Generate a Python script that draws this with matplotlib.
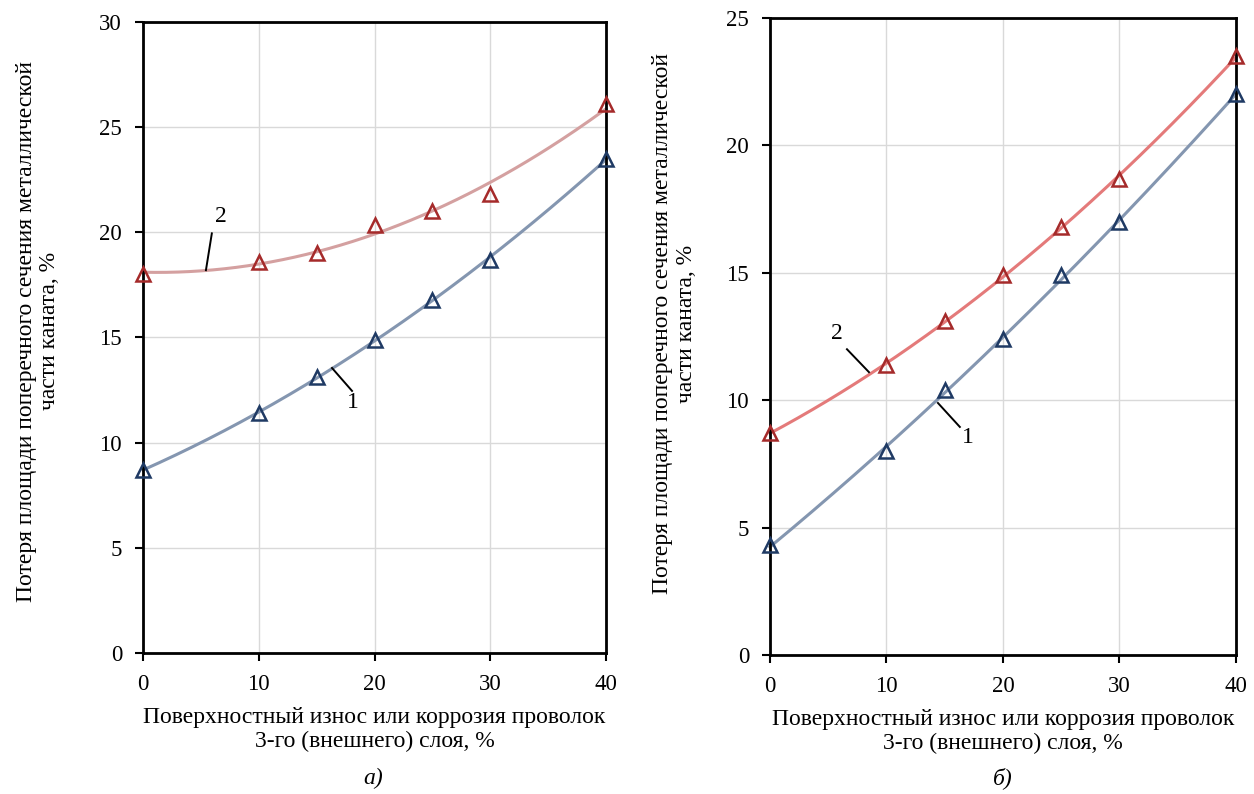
import numpy as np
import matplotlib.pyplot as plt

plt.rcParams['font.family'] = ['Liberation Serif', 'DejaVu Serif']

# --- data ---
x = [0, 10, 15, 20, 25, 30, 40]

# panel a)
a_curve1 = [8.7, 11.4, 13.1, 14.9, 16.8, 18.7, 23.5]
a_curve2 = [18.0, 18.6, 19.0, 20.35, 21.0, 21.8, 26.1]

# panel б)
b_curve1 = [4.3, 8.0, 10.4, 12.4, 14.9, 17.0, 22.0]
b_curve2 = [8.7, 11.4, 13.1, 14.9, 16.8, 18.7, 23.5]

xlabel = 'Поверхностный износ или коррозия проволок\n3-го (внешнего) слоя, %'
ylabel = 'Потеря площади поперечного сечения металлической\nчасти каната, %'

blue_mk = '#1f3a64'
blue_ln = '#8496b0'
red_mk = '#a52a2a'

fig = plt.figure(figsize=(12.54, 7.94), dpi=100)
ax1 = fig.add_axes([0.1140, 0.1776, 0.3693, 0.7947])
ax2 = fig.add_axes([0.6140, 0.1751, 0.3716, 0.8022])

xs = np.linspace(0, 40, 200)


def draw(ax, y1, y2, red_ln, ymax, ystep):
    for y, lc, mc in [(y1, blue_ln, blue_mk), (y2, red_ln, red_mk)]:
        p = np.polyfit(x, y, 2)
        ax.plot(xs, np.polyval(p, xs), color=lc, lw=2.2, zorder=2, clip_on=False)
        ax.plot(x, y, ls='none', marker='^', ms=10, mfc='none', mec=mc, mew=1.8,
                zorder=3, clip_on=False)
    ax.set_xlim(0, 40)
    ax.set_ylim(0, ymax)
    ax.set_xticks([0, 10, 20, 30, 40])
    ax.set_yticks(np.arange(0, ymax + 0.1, ystep))
    ax.grid(True, color='#d9d9d9', lw=1)
    ax.set_axisbelow(True)
    for s in ax.spines.values():
        s.set_linewidth(2)
        s.set_color('black')
    ax.tick_params(axis='both', direction='out', length=6, width=1.5,
                   labelsize=16.5)
    ax.tick_params(axis='y', pad=9)
    ax.tick_params(axis='x', pad=9)
    ax.set_xlabel(xlabel, fontsize=17, labelpad=9, linespacing=1.15)
    ax.set_ylabel(ylabel, fontsize=17, linespacing=1.15)


draw(ax1, a_curve1, a_curve2, '#d4a0a0', 30, 5)
draw(ax2, b_curve1, b_curve2, '#e47a7a', 25, 5)
ax1.yaxis.set_label_coords(-0.179, 0.51)
ax2.yaxis.set_label_coords(-0.157, 0.52)


# curve numbers with leader lines
def mark(ax, txt, tx, ty, lx, ly):
    ax.plot(lx, ly, color='black', lw=1.4, zorder=4)
    ax.text(tx, ty, txt, fontsize=17, ha='center', va='center', zorder=4)


mark(ax1, '2', 6.74, 20.75, [5.95, 5.44], [19.95, 18.2])
mark(ax1, '1', 18.14, 11.9, [16.33, 18.06], [13.55, 12.46])
mark(ax2, '2', 5.75, 12.6, [6.61, 8.5], [12.0, 11.1])
mark(ax2, '1', 17.0, 8.55, [14.42, 16.3], [9.89, 8.95])

fig.text(0.2975, 0.006, 'а)', fontsize=17, style='italic', ha='center', va='bottom')
fig.text(0.7998, 0.006, 'б)', fontsize=17, style='italic', ha='center', va='bottom')

fig.savefig('out.png', dpi=100)
